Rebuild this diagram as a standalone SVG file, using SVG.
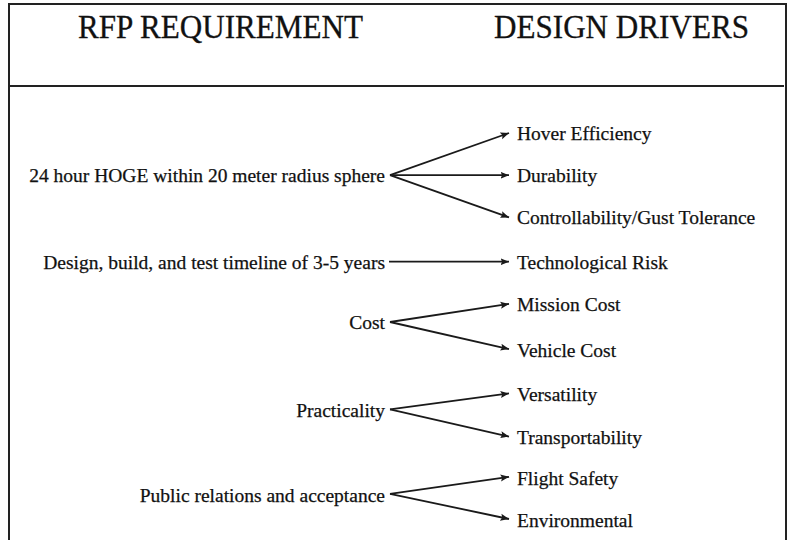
<svg xmlns="http://www.w3.org/2000/svg" width="792" height="540" viewBox="0 0 792 540">
  <style>
    .frame { fill: none; stroke: #222; stroke-width: 2; }
    .title { font-family: "Liberation Serif", "Times New Roman", serif; font-size: 33px; fill: #111; stroke: #111; stroke-width: 0.3; }
    .lbl { font-family: "Liberation Serif", "Times New Roman", serif; font-size: 19.5px; fill: #111; stroke: #111; stroke-width: 0.25; }
    .req { text-anchor: end; }
    .edge { fill: none; stroke: #1a1a1a; stroke-width: 1.8; marker-end: url(#tip); }
  </style>
  <defs>
    <marker id="tip" markerUnits="userSpaceOnUse" markerWidth="10" markerHeight="9" refX="8.5" refY="4.5" orient="auto">
      <path d="M0,1 L8.5,4.5 L0,8 L1.6,4.5 Z" fill="#1a1a1a"/>
    </marker>
  </defs>
  <rect width="792" height="540" fill="#fff"/>

  <!-- outer frame (open at the bottom) and header rule -->
  <g id="frame">
    <path class="frame" d="M9,545 V4 H786 V545"/>
    <line x1="10" y1="86" x2="784" y2="86" stroke="#222" stroke-width="2.2"/>
  </g>

  <!-- column headings -->
  <g id="headings">
    <text class="title" x="78" y="38" textLength="285" lengthAdjust="spacingAndGlyphs">RFP REQUIREMENT</text>
    <text class="title" x="494" y="38" textLength="255" lengthAdjust="spacingAndGlyphs">DESIGN DRIVERS</text>
  </g>

  <!-- requirements (left column) -->
  <g id="req-hoge"><text class="lbl req" x="385" y="181.9">24 hour HOGE within 20 meter radius sphere</text></g>
  <g id="req-timeline"><text class="lbl req" x="385" y="268.7">Design, build, and test timeline of 3-5 years</text></g>
  <g id="req-cost"><text class="lbl req" x="385" y="329.2">Cost</text></g>
  <g id="req-practicality"><text class="lbl req" x="385" y="417">Practicality</text></g>
  <g id="req-public"><text class="lbl req" x="385" y="501.8">Public relations and acceptance</text></g>

  <!-- design drivers (right column) -->
  <g id="drv-hover"><text class="lbl" x="517" y="139.5">Hover Efficiency</text></g>
  <g id="drv-durability"><text class="lbl" x="517" y="181.9">Durability</text></g>
  <g id="drv-control"><text class="lbl" x="517" y="224.3">Controllability/Gust Tolerance</text></g>
  <g id="drv-techrisk"><text class="lbl" x="517" y="268.7">Technological Risk</text></g>
  <g id="drv-mission"><text class="lbl" x="517" y="311">Mission Cost</text></g>
  <g id="drv-vehicle"><text class="lbl" x="517" y="356.5">Vehicle Cost</text></g>
  <g id="drv-versatility"><text class="lbl" x="517" y="400.9">Versatility</text></g>
  <g id="drv-transport"><text class="lbl" x="517" y="444.3">Transportability</text></g>
  <g id="drv-safety"><text class="lbl" x="517" y="484.6">Flight Safety</text></g>
  <g id="drv-environment"><text class="lbl" x="517" y="527">Environmental</text></g>

  <!-- connectors: requirement -> driver -->
  <g id="connectors">
    <line class="edge" x1="390" y1="175.2" x2="509" y2="133"/>
    <line class="edge" x1="390" y1="175.2" x2="509" y2="175.2"/>
    <line class="edge" x1="390" y1="175.2" x2="509" y2="217.4"/>
    <line class="edge" x1="389" y1="261.7" x2="509" y2="261.7"/>
    <line class="edge" x1="390" y1="322" x2="509" y2="303.9"/>
    <line class="edge" x1="390" y1="322" x2="509" y2="349.1"/>
    <line class="edge" x1="390" y1="409.4" x2="509" y2="393.4"/>
    <line class="edge" x1="390" y1="409.4" x2="509" y2="436.6"/>
    <line class="edge" x1="390" y1="493.8" x2="509" y2="476.8"/>
    <line class="edge" x1="390" y1="493.8" x2="509" y2="519"/>
  </g>
</svg>
